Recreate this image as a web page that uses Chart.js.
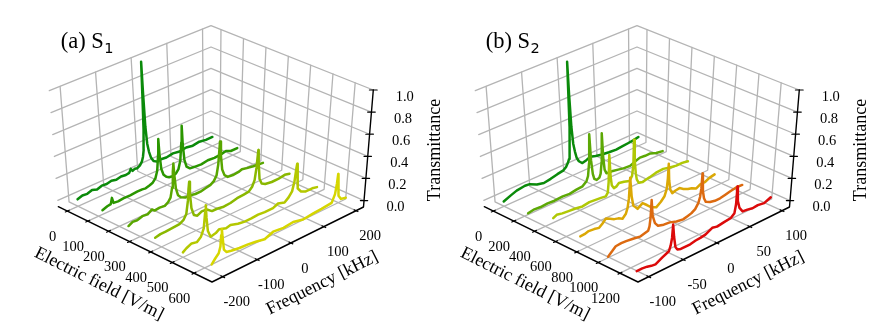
<!DOCTYPE html>
<html>
<head>
<meta charset="utf-8">
<style>
  html, body { margin: 0; padding: 0; background: #fff; }
  canvas { display: block; }
</style>
<script src="https://cdn.jsdelivr.net/npm/chart.js@4"></script>
</head>
<body>
<canvas id="chart" width="872" height="327"></canvas>
<script>
// tick labels
const fieldTicksA = [0, 100, 200, 300, 400, 500, 600];
const freqTicksA = [-200, -100, 0, 100, 200];
const fieldTicksB = [0, 200, 400, 600, 800, 1000, 1200];
const freqTicksB = [-100, -50, 0, 50, 100];
const transTicks = [0, 0.2, 0.4, 0.6, 0.8, 1];

// panel (a): field of each trace, then frequency [kHz] / transmittance pairs
const fieldsA = [0, 121, 245, 371, 500, 632];
const freqA1 = [-200,-186,-172,-158,-144,-130,-116,-102,-88,-74,-60,-50,-45,-40,-33,-26,-18,-12,-8,-5,-2.5,-1,0,1,3,6,10,15,22,32,46,60,80,100,120,140,160,180,200];
const transA1 = [.02,.035,.03,.045,.03,.045,.04,.05,.04,.05,.045,.05,.08,.055,.065,.06,.075,.10,.14,.2,.38,.7,1,.72,.4,.24,.16,.1,.06,.04,.045,.04,.05,.04,.05,.04,.05,.04,.04];
const freqA2 = [-200,-186,-176,-172,-168,-155,-140,-120,-100,-85,-75,-64,-55,-46,-40,-36,-34,-32,-28,-22,-14,-6,4,14,22,28,32,34,36,40,46,56,70,90,110,130,150,165,180,200];
const transA2 = [.03,.045,.05,.10,.05,.045,.05,.05,.055,.055,.05,.06,.07,.10,.16,.3,.44,.3,.16,.1,.07,.055,.05,.06,.09,.16,.32,.47,.3,.15,.08,.05,.045,.04,.05,.045,.05,.06,.04,.04];
const freqA3 = [-200,-188,-175,-160,-145,-132,-125,-110,-95,-85,-78,-73,-70,-68,-66,-62,-56,-48,-35,-20,-5,10,25,40,50,58,63,66,68,71,75,82,92,110,125,135,150,170,200];
const transA3 = [0,.02,.015,.03,.025,.05,.03,.035,.03,.05,.08,.16,.3,.37,.27,.14,.07,.04,.02,.02,.01,.01,.02,.03,.05,.09,.18,.3,.385,.25,.12,.06,.03,.025,.03,.04,.03,.02,.01];
const freqA4 = [-200,-185,-170,-150,-130,-118,-110,-105,-103,-101,-99,-95,-88,-78,-65,-50,-35,-20,0,20,40,60,75,85,92,97,99,101,103,107,114,125,145,165,185,200];
const transA4 = [.01,.02,.02,.025,.03,.05,.09,.2,.3,.36,.25,.12,.05,.03,.05,.045,.01,.01,0,.005,.02,.025,.03,.06,.11,.22,.3,.37,.25,.1,.05,.03,.02,.02,.03,.02];
const freqA5 = [-200,-190,-175,-160,-148,-140,-136,-134,-132,-128,-120,-105,-95,-75,-62,-40,-20,0,20,40,65,80,100,112,122,128,132,134,136,140,150,165,185,200];
const transA5 = [0,.02,.04,.03,.06,.12,.25,.31,.2,.08,.02,.03,.05,.03,.04,.02,.01,.01,.015,.01,.01,.03,.01,.04,.08,.16,.27,.31,.22,.08,.04,.02,.02,.01];
const freqA6 = [-200,-190,-180,-175,-173,-171,-169,-165,-158,-144,-120,-95,-70,-46,-21,10,39,69,100,125,156,165,169,171,173,177,185,200];
const transA6 = [.015,.05,.08,.13,.22,.27,.2,.09,.06,.05,.04,.035,.025,.01,.04,.03,.04,.02,.03,.035,.045,.11,.2,.28,.2,.08,.04,.03];

// panel (b)
const fieldsB = [0, 237, 480, 734, 992, 1255];
const freqB1 = [-100,-90,-81,-69,-62,-52,-42,-32,-22,-13,-9,-6,-4,-2.5,-1.2,-.5,0,.5,1.5,3,5,7,10,15,21,27,35,43,55,66,75,84,92,100];
const transB1 = [0,.025,.045,.055,.05,.02,.005,.015,.03,.04,.06,.09,.12,.2,.4,.7,1,.7,.4,.24,.16,.1,.06,.03,.04,.055,.04,.03,.02,.015,.02,.025,.03,.04];
const freqB2 = [-100,-91,-82,-72,-62,-50,-40,-30,-21,-15,-12.5,-10.5,-9,-7.5,-5.5,-3.5,0,4,6,7.8,9,10.3,12,14.5,19,24,32,40,50,58,65,73,81,90,100];
const transB2 = [0,.01,.005,.01,.005,.01,.005,.015,.02,.05,.09,.2,.46,.22,.09,.04,.02,.03,.06,.16,.42,.2,.08,.04,.035,.035,.025,.015,.01,.03,.045,.04,.04,.02,.01];
const freqB3 = [-100,-95,-87,-78,-68,-58,-48,-39,-31,-24,-21,-19.5,-18,-16.5,-15,-12,-8,-4.5,3,11,15,17,18,19,20.5,22,25,31,36,41,51,62,72,82,91,100];
const transB3 = [.065,.08,.07,.065,.06,.05,.06,.055,.05,.045,.07,.16,.40,.2,.12,.085,.09,.11,.1,.085,.12,.22,.44,.25,.13,.07,.03,.02,.03,.035,.05,.055,.04,.03,.03,.02];
const freqB4 = [-100,-94,-88,-80,-73,-68,-63,-57,-51,-45,-39,-34,-31.5,-29.5,-27.5,-25.5,-23,-20,-16.8,-13,-9.4,-3,4,11,18,23.4,26.5,28,29,30,32,35,40,46,52,59,65,72,78,85,92,100];
const transB4 = [.018,.02,.03,.025,.016,.04,.07,.05,.03,.02,0,.03,.075,.15,.33,.16,.07,.05,.025,.04,.055,.02,-.02,-.04,-.01,.025,.08,.17,.30,.15,.06,.02,.03,.035,.01,-.01,-.02,-.04,-.02,-.02,0,.01];
const freqB5 = [-100,-94,-89,-81,-74,-64,-54,-47,-42,-40,-38.5,-37,-35.5,-32,-27.5,-19,-10,0,10,17,22.5,28,32.5,35,36.5,37.6,39,41,44,50.5,58,66,74,81,91,100];
const transB5 = [-.04,-.01,.017,.02,.018,.01,0,.01,.017,.05,.12,.27,.13,.055,.02,.005,0,-.02,-.03,-.02,-.01,.01,.05,.1,.17,.30,.14,.07,.03,.01,0,0,.01,.02,.03,.026];
const freqB6 = [-100,-92,-85,-79,-73,-63,-53.5,-51,-49,-47.5,-46,-44,-41,-36,-29,-22,-14,-7,.5,10.7,18,28.5,38.7,44,46,47,48.5,51.5,56.6,64,72,80,90,100];
const transB6 = [-.045,-.045,-.05,-.06,-.065,-.035,-.01,.03,.09,.2,.09,0,-.03,-.04,-.04,-.04,-.03,-.027,-.02,.01,0,.01,.017,.045,.12,.27,.14,.07,.025,.02,.01,.015,.005,.03];

const colorsA = ["#0a8a0a", "#2a9600", "#58a600", "#8ab800", "#b4c800", "#d6d600"];
const colorsB = ["#0a8a0a", "#5ca805", "#b0c805", "#dba805", "#dc6a10", "#dc0a0a"];

// 3d box as seen on the page, corners in order left, front, right, back
const floorQuad = [[58.3, 206.7], [212, 282], [363.5, 207], [211, 138.5]];
const topQuad = [[49.3, 90.7], [212, 154], [373.3, 90], [211, 25.7]];
const U0 = 0.061, U1 = 0.8875;   // first and last field tick along the box
const V0 = 0.0672, V1 = 0.948;   // first and last frequency tick
const Z0 = 0.055;                // height of z=0 above the floor
const CURVE_DROP = 0.015;        // traces sit a bit under the z=0 grid in the source

function quadMap(q) {
  const [p0, p1, p2, p3] = q;
  const sx = p0[0] - p1[0] + p2[0] - p3[0], sy = p0[1] - p1[1] + p2[1] - p3[1];
  const d1x = p1[0] - p2[0], d1y = p1[1] - p2[1];
  const d2x = p3[0] - p2[0], d2y = p3[1] - p2[1];
  const den = d1x * d2y - d2x * d1y;
  const g = (sx * d2y - d2x * sy) / den;
  const h = (d1x * sy - sx * d1y) / den;
  return (u, v) => {
    const k = g * u + h * v + 1;
    return [
      (p0[0] + u * (p1[0] - p0[0] + g * p1[0]) + v * (p3[0] - p0[0] + h * p3[0])) / k,
      (p0[1] + u * (p1[1] - p0[1] + g * p1[1]) + v * (p3[1] - p0[1] + h * p3[1])) / k
    ];
  };
}
const floorMap = quadMap(floorQuad);
const topMap = quadMap(topQuad);

function box(panel, u, v, w) {
  const a = floorMap(u, v), b = topMap(u, v);
  return { x: a[0] + (b[0] - a[0]) * w + panel.dx, y: a[1] + (b[1] - a[1]) * w };
}
const uOf = (panel, e) => U0 + (e / panel.fieldTicks[panel.fieldTicks.length - 1]) * (U1 - U0);
const vOf = (panel, f) => {
  const m = panel.freqTicks[panel.freqTicks.length - 1];
  return V0 + ((f + m) / (2 * m)) * (V1 - V0);
};
const wOf = z => Z0 + (1 - Z0) * z;

const panelA = {
  dx: 0, title: "(a) S", sub: "1",
  fieldTicks: fieldTicksA, freqTicks: freqTicksA,
  fields: fieldsA, colors: colorsA,
  freqs: [freqA1, freqA2, freqA3, freqA4, freqA5, freqA6],
  trans: [transA1, transA2, transA3, transA4, transA5, transA6]
};
const panelB = {
  dx: 426, title: "(b) S", sub: "2",
  fieldTicks: fieldTicksB, freqTicks: freqTicksB,
  fields: fieldsB, colors: colorsB,
  freqs: [freqB1, freqB2, freqB3, freqB4, freqB5, freqB6],
  trans: [transB1, transB2, transB3, transB4, transB5, transB6]
};

const GRID = "#b4b4b4";
const datasets = [];
const labels = [];

function addLine(points, color, width) {
  datasets.push({
    data: points, borderColor: color, borderWidth: width,
    showLine: true, pointRadius: 0, tension: 0, fill: false,
    borderCapStyle: "round", borderJoinStyle: "round", clip: false
  });
}

function addPanel(p) {
  p.fieldTicks.forEach(e => {
    const u = uOf(p, e);
    addLine([box(p, u, 0, 0), box(p, u, 1, 0), box(p, u, 1, 1)], GRID, 1.3);
  });
  p.freqTicks.forEach(f => {
    const v = vOf(p, f);
    addLine([box(p, 1, v, 0), box(p, 0, v, 0), box(p, 0, v, 1)], GRID, 1.3);
  });
  transTicks.forEach(z => {
    const w = wOf(z);
    addLine([box(p, 0, 0, w), box(p, 0, 1, w), box(p, 1, 1, w)], GRID, 1.3);
  });

  // black axes and their ticks
  addLine([box(p, 0, 0, 0), box(p, 1, 0, 0), box(p, 1, 1, 0), box(p, 1, 1, 1)], "#000", 1.4);
  const d = 0.012;
  p.fieldTicks.forEach(e => {
    const u = uOf(p, e);
    addLine([box(p, u, -d, 0), box(p, u, d, 0)], "#000", 1.2);
    const t = box(p, u, 0, 0);
    labels.push({ text: String(e), x: t.x - 14.6, y: t.y + 25.8, size: 14.5 });
  });
  p.freqTicks.forEach(f => {
    const v = vOf(p, f);
    addLine([box(p, 1 - d, v, 0), box(p, 1 + d, v, 0)], "#000", 1.2);
    const t = box(p, 1, v, 0);
    labels.push({ text: String(f), x: t.x + 14, y: t.y + 25.9, size: 14.5 });
  });
  transTicks.forEach(z => {
    const w = wOf(z);
    addLine([box(p, 1 - d, 1 - d, w), box(p, 1 + d, 1 + d, w)], "#000", 1.2);
    const t = box(p, 1, 1, w);
    labels.push({ text: z.toFixed(1), x: t.x + 31.5, y: t.y + 7, size: 14.5 });
  });

  // traces, back to front; the drop fades out towards the full height
  p.fields.forEach((e, i) => {
    const pts = p.freqs[i].map((f, j) => {
      const t = p.trans[i][j];
      return box(p, uOf(p, e), vOf(p, f), wOf(t - CURVE_DROP * (1 - t)));
    });
    addLine(pts, p.colors[i], 2.5);
  });

  labels.push({ text: "Electric field [V/m]", x: 99 + p.dx, y: 283.8, size: 18, rot: 26.6 });
  labels.push({ text: "Frequency [kHz]", x: 322.3 + p.dx, y: 283.2, size: 18, rot: -26.6 });
  labels.push({ text: "Transmittance", x: 435.5 + p.dx, y: 150, size: 18, rot: -90 });
}
addPanel(panelA);
addPanel(panelB);

const textPlugin = {
  id: "boxText",
  afterDraw(chart) {
    const ctx = chart.ctx;
    ctx.save();
    ctx.fillStyle = "#000";
    ctx.textAlign = "center";
    ctx.textBaseline = "middle";
    labels.forEach(l => {
      ctx.save();
      ctx.translate(l.x, l.y);
      if (l.rot) ctx.rotate(l.rot * Math.PI / 180);
      ctx.font = l.size + 'px "Liberation Serif"';
      ctx.fillText(l.text, 0, 0);
      ctx.restore();
    });
    ctx.textAlign = "left";
    ctx.textBaseline = "alphabetic";
    [panelA, panelB].forEach(p => {
      const x = 60.7 + p.dx - (p === panelB ? 1 : 0);
      ctx.font = '22.5px "Liberation Serif"';
      ctx.fillText(p.title, x, 48.3);
      const w = ctx.measureText(p.title).width;
      ctx.font = '14.5px "DejaVu Sans"';
      ctx.fillText(p.sub, x + w + 0.5, 52.5);
    });
    ctx.restore();
  }
};

// page pixels as scales, the box projection above puts every value on them
new Chart(document.getElementById("chart"), {
  type: "scatter",
  data: { datasets: datasets.slice().reverse() },
  options: {
    responsive: false,
    animation: false,
    layout: { padding: 0 },
    scales: {
      x: { type: "linear", min: 0, max: 872, display: false },
      y: { type: "linear", min: 0, max: 327, reverse: true, display: false }
    },
    plugins: { legend: { display: false }, tooltip: { enabled: false } }
  },
  plugins: [textPlugin]
});
</script>
</body>
</html>
